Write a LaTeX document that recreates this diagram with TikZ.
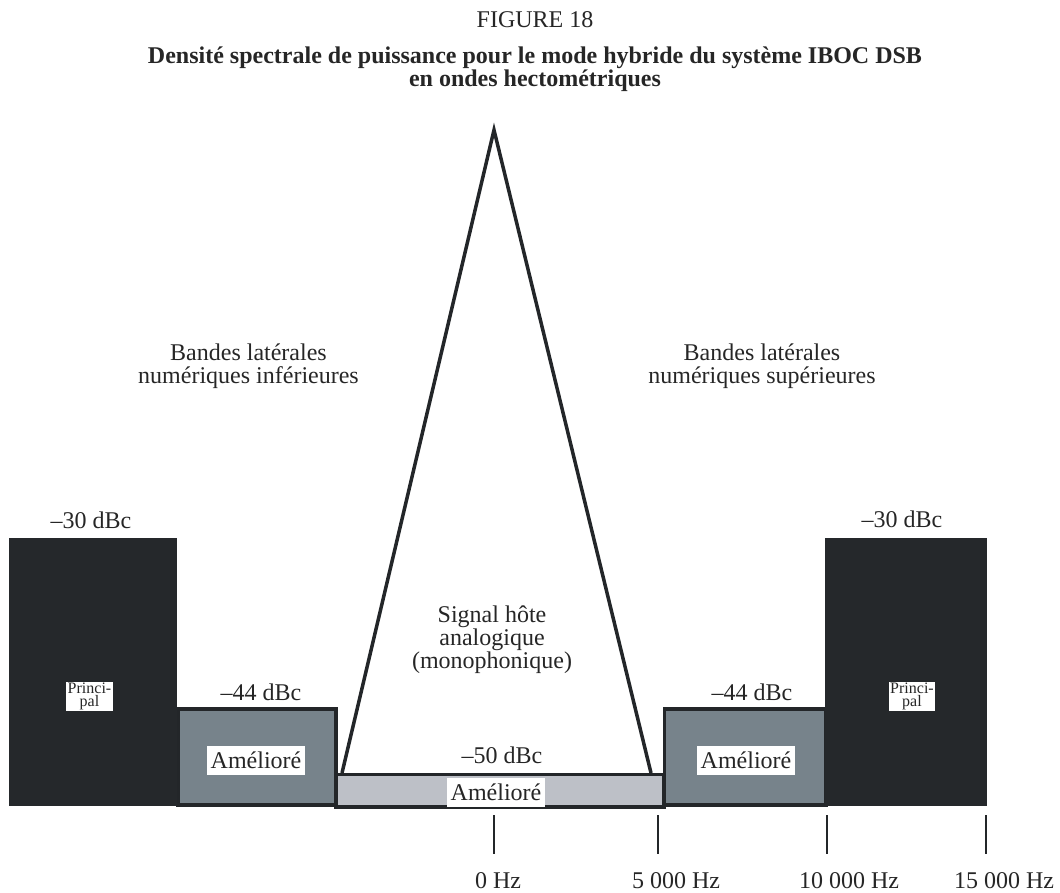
\documentclass[tikz,border=0pt]{standalone}
\usepackage{fontspec}
\setmainfont{Liberation Serif}
\definecolor{bandDark}{HTML}{25282B}
\definecolor{bandGray}{HTML}{77838B}
\definecolor{bandLight}{HTML}{BDC0C7}
\definecolor{edge}{HTML}{232629}
\definecolor{ink}{HTML}{262626}
\begin{document}
\begin{tikzpicture}[x=1pt, y=-1pt,
    every node/.style={text=ink, font=\fontsize{24}{23}\selectfont, inner sep=0pt},
    level/.style={anchor=base},
    caption/.style={align=center},
    tag/.style={fill=white, minimum width=98pt, minimum height=29pt},
    smalltag/.style={fill=white, inner sep=1.5pt, align=center, font=\fontsize{16}{12.5}\selectfont},
    edgeline/.style={draw=edge, line width=3.5pt}]
    \useasboundingbox (0,0) rectangle (1060,893);
    \node[level] (fig) at (535,28) {FIGURE 18};
    \node[caption, font=\bfseries\fontsize{24}{23}\selectfont] (title) at (535,69)
        {Densité spectrale de puissance pour le mode hybride du système IBOC DSB\\en ondes hectométriques};
    \filldraw[fill=bandLight, edgeline] (336,774.5) rectangle (664,807);
    \filldraw[fill=bandGray, edgeline] (178,709) rectangle (336,805);
    \filldraw[fill=bandGray, edgeline] (664.5,709) rectangle (826,805);
    \fill[bandDark] (9,538) rectangle (177,806);
    \fill[bandDark] (825,538) rectangle (987,806);
    \coordinate (baseL) at (342,773);
    \coordinate (apex) at (494,130);
    \coordinate (baseR) at (651,773);
    \draw[edge, line width=3.5pt, line join=miter] (baseL) -- (apex) -- (baseR);
    \node[caption] (lower) at (248.5,366) {Bandes latérales\\numériques inférieures};
    \node[caption] (upper) at (762,366) {Bandes latérales\\numériques supérieures};
    \node[caption] (host) at (492,639.5) {Signal hôte\\analogique\\(monophonique)};
    \node[level] (dbcL) at (91,528) {–30 dBc};
    \node[level] (dbcR) at (902,527) {–30 dBc};
    \node[level] (enhdbcL) at (261,700) {–44 dBc};
    \node[level] (enhdbcR) at (752,700) {–44 dBc};
    \node[level] (enhdbcC) at (502,763) {–50 dBc};
    \node[smalltag] (mainL) at (89.5,696.5) {Princi-\\pal};
    \node[smalltag] (mainR) at (912,696.5) {Princi-\\pal};
    \node[tag] (enhL) at (256,760.5) {Amélioré};
    \node[tag] (enhR) at (746,760.5) {Amélioré};
    \node[tag] (enhC) at (496,792.5) {Amélioré};
    \foreach \x in {494,658,827,986}
        \draw[edge, line width=2pt] (\x,815) -- (\x,854);
    \node[level] (f0) at (498,888) {0 Hz};
    \node[level] (f5) at (676,888) {5~000 Hz};
    \node[level] (f10) at (849,888) {10~000 Hz};
    \node[level] (f15) at (1004,888) {15~000 Hz};
\end{tikzpicture}
\end{document}
